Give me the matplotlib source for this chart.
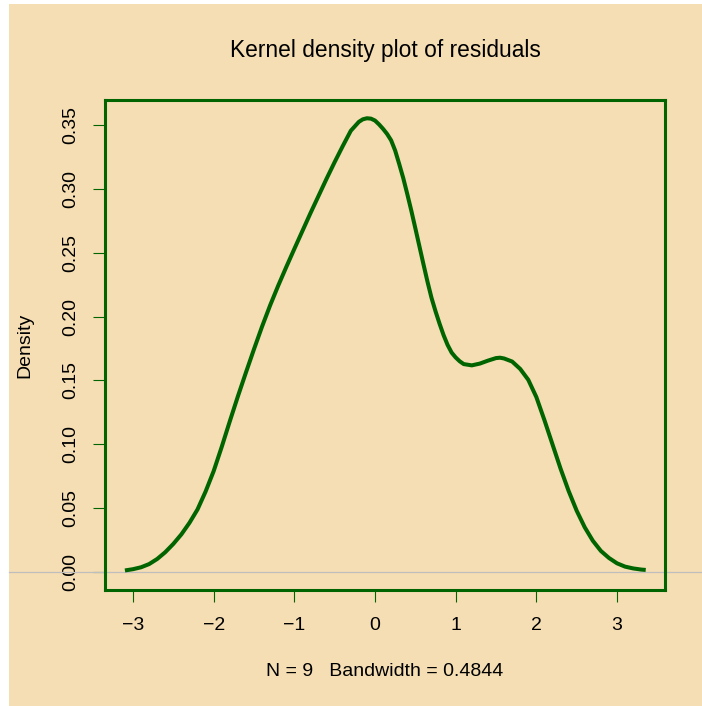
import matplotlib
matplotlib.use("Agg")
import matplotlib.pyplot as plt
from matplotlib.patches import Rectangle
from matplotlib.transforms import blended_transform_factory

plt.rcParams['font.family'] = ['Liberation Sans', 'DejaVu Sans']

# Density curve
dens_x = [-3.1, -3.0, -2.9, -2.8, -2.7, -2.6, -2.5, -2.4, -2.3, -2.2, -2.1, -2.0,
          -1.9, -1.8, -1.7, -1.6, -1.5, -1.4, -1.3, -1.2, -1.1, -1.0, -0.9, -0.8,
          -0.7, -0.6, -0.5, -0.4, -0.3, -0.2, -0.15, -0.1, -0.05, 0.0, 0.05, 0.1,
          0.15, 0.2, 0.25, 0.3, 0.35, 0.4, 0.45, 0.5, 0.55, 0.6, 0.65, 0.7, 0.75,
          0.8, 0.85, 0.9, 0.95, 1.0, 1.05, 1.1, 1.2, 1.3, 1.4, 1.5,
          1.55, 1.6, 1.7, 1.8, 1.9, 2.0, 2.1, 2.2, 2.3, 2.4, 2.5, 2.6, 2.7, 2.8,
          2.9, 3.0, 3.1, 3.2, 3.3, 3.356]
dens_y = [0.0012, 0.0022, 0.0037, 0.0062, 0.0102, 0.0155, 0.022, 0.0295, 0.0385, 0.049, 0.063, 0.079,
          0.098, 0.118, 0.1375, 0.1562, 0.1745, 0.1922, 0.2088, 0.2242, 0.2388, 0.253, 0.267, 0.281,
          0.2945, 0.308, 0.321, 0.3335, 0.3455, 0.3525, 0.3545, 0.3553, 0.355, 0.3535, 0.3505, 0.347,
          0.343, 0.338, 0.330, 0.3195, 0.3085, 0.296, 0.283, 0.2692, 0.2552, 0.2412, 0.2275, 0.2148, 0.2042,
          0.1945, 0.1855, 0.1778, 0.1718, 0.168, 0.165, 0.1628, 0.1618, 0.1632, 0.1655, 0.1675,
          0.1678, 0.1672, 0.1648, 0.159, 0.1505, 0.137, 0.119, 0.100, 0.081, 0.0635, 0.048, 0.035, 0.0245, 0.0165,
          0.011, 0.0068, 0.0042, 0.0028, 0.0019, 0.0016]

x_ticks = [-3, -2, -1, 0, 1, 2, 3]
y_ticks = [0.00, 0.05, 0.10, 0.15, 0.20, 0.25, 0.30, 0.35]
y_tick_labels = ["0.00", "0.05", "0.10", "0.15", "0.20", "0.25", "0.30", "0.35"]
title = "Kernel density plot of residuals"
x_label = "N = 9   Bandwidth = 0.4844"
y_label = "Density"

W, H = 702, 706
fig = plt.figure(figsize=(W / 100, H / 100), dpi=100)
fig.patch.set_facecolor('white')
bg = '#F5DEB3'
fig.patches.append(Rectangle((9 / W, 0), 1 - 9 / W, 1 - 4 / H, transform=fig.transFigure,
                             facecolor=bg, edgecolor='none', zorder=-10))

green = '#006400'
ax = fig.add_axes([105 / W, 1 - 590 / H, (665 - 105) / W, (590 - 100) / H])
ax.set_facecolor(bg)
ax.plot(dens_x, dens_y, color=green, lw=2.9, solid_capstyle='butt',
        solid_joinstyle='round', zorder=3)
ax.set_xlim(-3.347, 3.595)
ax.set_ylim(-0.0141, 0.3696)

# gray zero line across the whole figure
tr = blended_transform_factory(fig.transFigure, ax.transData)
ax.plot([9 / W, 1], [0, 0], transform=tr, color='#BEBEBE', lw=0.9, clip_on=False, zorder=2)

for s in ax.spines.values():
    s.set_color(green)
    s.set_linewidth(2.2)

ax.set_xticks(x_ticks)
ax.set_yticks(y_ticks)
ax.set_yticklabels(y_tick_labels, rotation=90, va='center')
ax.tick_params(axis='both', colors=green, labelcolor='black', length=8.5, width=0.8,
               labelsize=14)
ax.tick_params(axis='x', pad=11)
ax.tick_params(axis='y', pad=10)

fig.text((105 + 665) / 2 / W, 1 - 50 / H, title, ha='center', va='center', fontsize=16.4)
fig.text((105 + 665) / 2 / W, 1 - 672 / H, x_label, ha='center', va='center', fontsize=14)
fig.text(25 / W, 1 - 345 / H, y_label, ha='center', va='center', rotation=90, fontsize=14)

fig.savefig('out.png', dpi=100, facecolor=fig.get_facecolor())
